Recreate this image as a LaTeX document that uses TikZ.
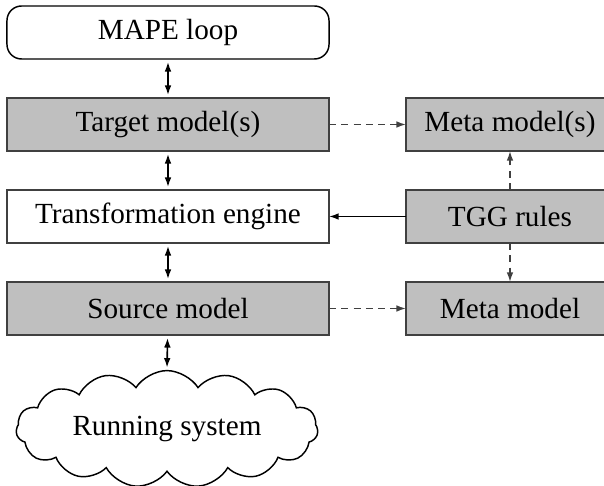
\documentclass[tikz,border=0pt]{standalone}
\usepackage{fontspec}
\setmainfont{Liberation Serif}
\usetikzlibrary{shapes.symbols,arrows.meta}
\begin{document}
\begin{tikzpicture}[x=0.3425pt,y=-0.3425pt,
  font=\fontsize{10pt}{12pt}\selectfont,
  box/.style={draw=black!75,line width=0.5pt,inner sep=0pt,outer sep=0pt,
    minimum height=18.15pt},
  leftbox/.style={box,minimum width=110.3pt},
  rightbox/.style={box,minimum width=71.2pt},
  shaded/.style={fill=black!25},
  tip/.tip={Latex[length=3.3pt,width=2.3pt]},
  link/.style={line width=0.55pt,-tip},
  twoway/.style={line width=0.55pt,tip-tip,shorten <=1pt,shorten >=1pt},
  dlink/.style={link,draw=black!75,dash pattern=on 2.4pt off 1.8pt}]
\useasboundingbox (0,0) rectangle (604,486);
% left column
\node[leftbox,rounded corners=5pt,draw=black] (mape) at (168,32.5) {MAPE loop};
\node[leftbox,shaded] (target) at (168,124.5) {Target model(s)};
\node[leftbox] (engine) at (168,216.5) {Transformation engine};
\node[leftbox,shaded] (source) at (168,308.5) {Source model};
\node[cloud,draw,line width=0.5pt,cloud puffs=15,cloud puff arc=115,
  cloud ignores aspect,minimum width=103.4pt,minimum height=40pt,
  inner sep=0pt,outer sep=0pt] (system) at (167,429) {Running system};
% right column
\node[rightbox,shaded] (metas) at (510,124.5) {Meta model(s)};
\node[rightbox,shaded] (tgg) at (510,216.5) {TGG rules};
\node[rightbox,shaded] (meta) at (510,308.5) {Meta model};
% connectors
\draw[twoway] (mape) -- (target);
\draw[twoway] (target) -- (engine);
\draw[twoway] (engine) -- (source);
\draw[twoway] (source) -- (system.north);
\draw[link] (tgg) -- (engine);
\draw[dlink] (target) -- (metas);
\draw[dlink] (source) -- (meta);
\draw[dlink] (tgg) -- (metas);
\draw[dlink] (tgg) -- (meta);
\end{tikzpicture}
\end{document}
